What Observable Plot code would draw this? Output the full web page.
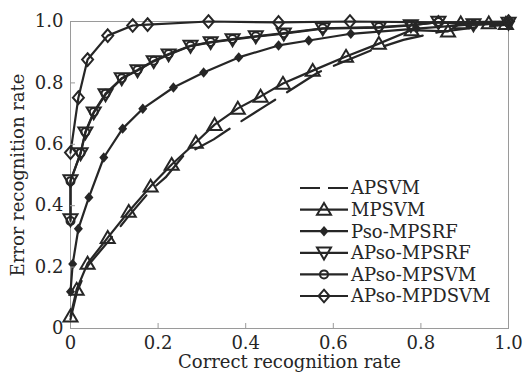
<!DOCTYPE html>
<html>
<head>
<meta charset="utf-8">
<script src="https://cdn.jsdelivr.net/npm/d3@7"></script>
<script src="https://cdn.jsdelivr.net/npm/@observablehq/plot@0.6"></script>
<style>
  html, body { margin: 0; padding: 0; background: #fff; }
  #wrap { position: relative; width: 523px; height: 377px; }
  #legend { position: absolute; left: 0; top: 0; }
</style>
</head>
<body>
<div id="wrap"></div>
<script>
const seriesNames = ["APSVM", "MPSVM", "Pso-MPSRF", "APso-MPSRF", "APso-MPSVM", "APso-MPDSVM"];
const tickValues = [0, 0.2, 0.4, 0.6, 0.8, 1.0];
const tickLabels = ["0", "0.2", "0.4", "0.6", "0.8", "1.0"];

const apsvmX = [0, 0.015, 0.04, 0.09, 0.135, 0.183, 0.217, 0.258, 0.327, 0.357, 0.446, 0.475, 0.565, 0.6, 0.686, 0.76, 0.84, 0.92, 1.0];
const apsvmY = [0.03, 0.12, 0.205, 0.29, 0.37, 0.45, 0.492, 0.563, 0.616, 0.645, 0.726, 0.752, 0.834, 0.855, 0.906, 0.94, 0.965, 0.98, 0.99];

const mpsvmX = [0, 0.014, 0.039, 0.085, 0.133, 0.183, 0.231, 0.286, 0.329, 0.382, 0.434, 0.485, 0.553, 0.629, 0.704, 0.779, 0.862, 0.891, 0.955, 0.994];
const mpsvmY = [0.04, 0.127, 0.212, 0.296, 0.381, 0.463, 0.534, 0.606, 0.664, 0.717, 0.756, 0.798, 0.84, 0.886, 0.928, 0.972, 0.968, 0.995, 0.995, 0.993];

const psoX = [0, 0.005, 0.018, 0.042, 0.076, 0.119, 0.165, 0.235, 0.304, 0.384, 0.475, 0.544, 0.64, 0.79, 0.91, 1.0];
const psoY = [0.12, 0.21, 0.325, 0.427, 0.557, 0.651, 0.716, 0.785, 0.834, 0.883, 0.922, 0.938, 0.96, 0.977, 0.99, 0.995];

const apsoRfX = [0, 0, 0.023, 0.034, 0.053, 0.08, 0.117, 0.153, 0.19, 0.224, 0.274, 0.32, 0.37, 0.423, 0.487, 0.576, 0.704, 0.777, 0.84, 0.92, 1.0];
const apsoRfY = [0.355, 0.482, 0.57, 0.638, 0.703, 0.762, 0.814, 0.84, 0.87, 0.892, 0.92, 0.932, 0.941, 0.951, 0.96, 0.977, 0.98, 0.987, 0.998, 0.99, 0.995];

const apsoSvmX = [0, 0, 0.023, 0.034, 0.053, 0.08, 0.117, 0.153, 0.19, 0.224, 0.274, 0.32, 0.37, 0.423, 0.487, 0.576, 0.704, 0.777, 0.84, 0.92, 1.0];
const apsoSvmY = [0.35, 0.48, 0.572, 0.64, 0.705, 0.765, 0.815, 0.842, 0.872, 0.894, 0.921, 0.933, 0.943, 0.952, 0.962, 0.978, 0.982, 0.988, 0.998, 0.99, 0.995];

const apsoDsvmX = [0, 0.018, 0.039, 0.085, 0.142, 0.176, 0.315, 0.475, 0.638, 0.84, 1.0];
const apsoDsvmY = [0.573, 0.752, 0.876, 0.954, 0.987, 0.99, 1.0, 0.997, 1.0, 0.997, 1.0];

const INK = "#262626";
const FONT = "'DejaVu Serif', 'Liberation Serif', serif";

// custom marker shapes (r = half width)
function rOf(size) { return Math.sqrt(size / Math.PI); }
const triUp = { draw(c, size) { const r = rOf(size); c.moveTo(0, -0.95 * r); c.lineTo(r, 0.75 * r); c.lineTo(-r, 0.75 * r); c.closePath(); } };
const triDown = { draw(c, size) { const r = rOf(size); c.moveTo(0, 0.95 * r); c.lineTo(r, -0.75 * r); c.lineTo(-r, -0.75 * r); c.closePath(); } };
const diamond = { draw(c, size) { const r = rOf(size); c.moveTo(0, -1.15 * r); c.lineTo(r, 0); c.lineTo(0, 1.15 * r); c.lineTo(-r, 0); c.closePath(); } };
const circle = { draw(c, size) { const r = rOf(size); c.moveTo(r, 0); c.arc(0, 0, r, 0, 2 * Math.PI); c.closePath(); } };

const rows = (xs, ys) => xs.map((x, i) => ({x, y: ys[i]}));

const series = [
  {name: seriesNames[0], data: rows(apsvmX, apsvmY), dash: "40,14", marker: null},
  {name: seriesNames[1], data: rows(mpsvmX, mpsvmY), marker: triUp, r: 7, fill: "none"},
  {name: seriesNames[2], data: rows(psoX, psoY), marker: diamond, r: 3.2, fill: INK},
  {name: seriesNames[3], data: rows(apsoRfX, apsoRfY), marker: triDown, r: 7, fill: "none"},
  {name: seriesNames[4], data: rows(apsoSvmX, apsoSvmY), marker: circle, r: 4, fill: "none"},
  {name: seriesNames[5], data: rows(apsoDsvmX, apsoDsvmY), marker: diamond, r: 5.5, fill: "none"}
];

const marks = [Plot.frame({stroke: "#9a9a9a", strokeWidth: 1})];
for (const s of series) {
  marks.push(Plot.line(s.data, {x: "x", y: "y", stroke: INK, strokeWidth: 2.2, strokeDasharray: s.dash || null}));
  if (s.marker) {
    marks.push(Plot.dot(s.data, {x: "x", y: "y", symbol: () => s.marker, r: s.r, stroke: INK, strokeWidth: 2, fill: s.fill}));
  }
}
marks.push(
  Plot.axisX(tickValues, {tickSize: -5, tickPadding: 13, stroke: "#9a9a9a", tickFormat: (d, i) => tickLabels[i], fill: INK, label: null}),
  Plot.axisY(tickValues, {tickSize: -5, tickPadding: 12, stroke: "#9a9a9a", tickFormat: (d, i) => tickLabels[i], fill: INK, label: null}),
  Plot.text(["Correct recognition rate"], {frameAnchor: "bottom", dy: 34, lineAnchor: "middle", textAnchor: "middle", fill: INK, fontSize: 18}),
  Plot.text(["Error recognition rate"], {frameAnchor: "left", dx: -52, rotate: -90, lineAnchor: "middle", textAnchor: "middle", fill: INK, fontSize: 18})
);

const chart = Plot.plot({
  width: 523,
  height: 377,
  marginLeft: 70,
  marginRight: 15,
  marginTop: 21,
  marginBottom: 49,
  x: {domain: [0, 1], label: null},
  y: {domain: [0, 1], label: null},
  style: {fontFamily: FONT, fontSize: "18px", background: "#fff", color: INK},
  marks
});
document.getElementById("wrap").appendChild(chart);

// Legend overlay
const leg = d3.select("#wrap").append("svg").attr("id", "legend")
  .attr("width", 523).attr("height", 377)
  .style("font-family", FONT).style("font-size", "18px");
const legX0 = 300, legX1 = 348, legMid = 324, legY0 = 188, legStep = 21.6;
series.forEach((s, i) => {
  const y = legY0 + i * legStep;
  const g = leg.append("g");
  g.append("line").attr("x1", legX0).attr("x2", legX1).attr("y1", y).attr("y2", y)
    .attr("stroke", INK).attr("stroke-width", 2.2)
    .attr("stroke-dasharray", s.dash ? "20,8" : null);
  if (s.marker) {
    g.append("path").attr("transform", `translate(${legMid},${y})`)
      .attr("d", d3.symbol(s.marker, s.r * s.r * Math.PI)())
      .attr("fill", s.fill === "none" ? "none" : s.fill)
      .attr("stroke", INK).attr("stroke-width", 2);
  }
  g.append("text").attr("x", legX1 + 3).attr("y", y).attr("dy", "0.35em")
    .attr("fill", INK).text(s.name);
});
</script>
</body>
</html>
